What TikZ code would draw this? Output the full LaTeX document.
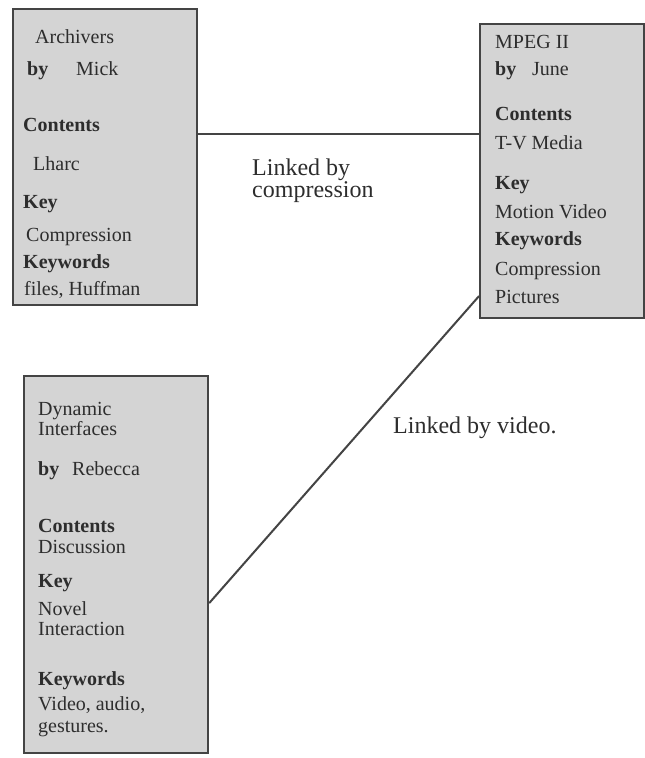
\documentclass[tikz,border=0pt]{standalone}
\usepackage{fontspec}
\setmainfont{Liberation Serif}
\definecolor{cardgray}{RGB}{212,212,212}
\definecolor{edgegray}{RGB}{68,68,68}
\definecolor{inkgray}{RGB}{45,45,45}
\begin{document}
\begin{tikzpicture}[x=1pt,y=-1pt,
  card/.style={draw=edgegray, fill=cardgray, line width=2.2pt, rectangle, inner sep=0pt, anchor=north west},
  field/.style={anchor=base west, inner sep=0pt, text=inkgray, font=\fontsize{20}{20}\selectfont\bfseries},
  entry/.style={anchor=base west, inner sep=0pt, text=inkgray, font=\fontsize{20}{20}\selectfont},
  linklabel/.style={anchor=base west, inner sep=0pt, text=inkgray, font=\fontsize{24}{24}\selectfont},
  link/.style={draw=edgegray, line width=2pt}]
\useasboundingbox (0,0) rectangle (645,758);
\fill[white] (0,0) rectangle (645,758);

% the three document cards
\node[card, minimum width=184pt, minimum height=296pt] (archivers) at (12,8) {};
\node[card, minimum width=164pt, minimum height=294pt] (mpeg) at (479,23) {};
\node[card, minimum width=184pt, minimum height=377pt] (dynamic) at (23,375) {};

% links between cards
\draw[link] ([yshift=23pt]archivers.east) -- ([yshift=23pt]archivers.east -| mpeg.west);
\draw[link] ([yshift=-38.5pt]dynamic.east) -- ([yshift=-125pt]mpeg.west);

\node[linklabel] (lc1) at (252,175) {Linked by};
\node[linklabel] (lc2) at (252,197) {compression};
\node[linklabel] (lv) at (393,433) {Linked by video.};

% card: Archivers
\node[entry] (a1) at (35,43) {Archivers};
\node[field] (a2) at (27,75) {by};
\node[entry] (a3) at (76,75) {Mick};
\node[field] (a4) at (23,131) {Contents};
\node[entry] (a5) at (33,170) {Lharc};
\node[field] (a6) at (23,208) {Key};
\node[entry] (a7) at (26,241) {Compression};
\node[field] (a8) at (23,268) {Keywords};
\node[entry] (a9) at (24,295) {files, Huffman};

% card: MPEG II
\node[entry] (m1) at (495,48) {MPEG II};
\node[field] (m2) at (495,75) {by};
\node[entry] (m3) at (532,75) {June};
\node[field] (m4) at (495,120) {Contents};
\node[entry] (m5) at (495,149) {T-V Media};
\node[field] (m6) at (495,189) {Key};
\node[entry] (m7) at (495,218) {Motion Video};
\node[field] (m8) at (495,245) {Keywords};
\node[entry] (m9) at (495,275) {Compression};
\node[entry] (m10) at (495,303) {Pictures};

% card: Dynamic Interfaces
\node[entry] (d1) at (38,415) {Dynamic};
\node[entry] (d2) at (38,435) {Interfaces};
\node[field] (d3) at (38,475) {by};
\node[entry] (d4) at (72,475) {Rebecca};
\node[field] (d5) at (38,532) {Contents};
\node[entry] (d6) at (38,553) {Discussion};
\node[field] (d7) at (38,587) {Key};
\node[entry] (d8) at (38,615) {Novel};
\node[entry] (d9) at (38,635) {Interaction};
\node[field] (d10) at (38,685) {Keywords};
\node[entry] (d11) at (38,710) {Video, audio,};
\node[entry] (d12) at (38,732) {gestures.};
\end{tikzpicture}
\end{document}
